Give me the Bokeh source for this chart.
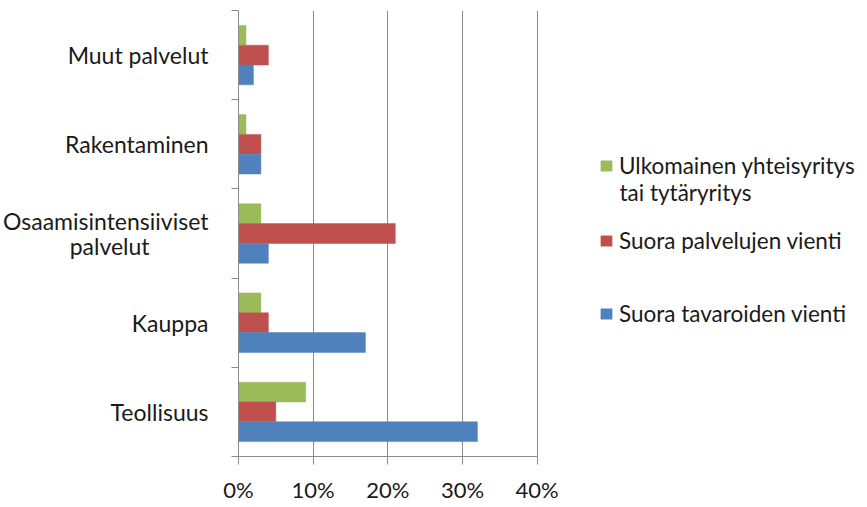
from bokeh.plotting import figure
from bokeh.models import (Range1d, FixedTicker, PrintfTickFormatter, Legend, LegendItem,
                          ColumnDataSource, Label)
from bokeh.embed import file_html
from bokeh.resources import INLINE

# ---- data (bottom to top) ----
categories = ["Teollisuus", "Kauppa", "Osaamisintensiiviset\npalvelut", "Rakentaminen", "Muut palvelut"]
tavaroiden_vienti = [32, 17, 4, 3, 2]       # Suora tavaroiden vienti (blue)
palvelujen_vienti = [5, 4, 21, 3, 4]        # Suora palvelujen vienti (red)
ulkomainen = [9, 3, 3, 1, 1]                # Ulkomainen yhteisyritys tai tytäryritys (green)
x_ticks = [0, 10, 20, 30, 40]

series_names = ["Ulkomainen yhteisyritys",
                "Suora palvelujen vienti",
                "Suora tavaroiden vienti"]
series_name_line2 = "tai tytäryritys"
colors = ["#9BBB59", "#C0504D", "#4F81BD"]

FONT = "Lato"
TEXT_COLOR = "#1a1a1a"
GRID_COLOR = "#8c8c8c"

# frame extends to the right so the legend can sit inside it; axis/grid stop at 40 %
p = figure(width=857, height=505, output_backend="svg", toolbar_location=None,
           x_range=Range1d(0, 82.77), y_range=Range1d(-0.5, len(categories) - 0.5),
           min_border_left=229, min_border_top=10, min_border_bottom=45, min_border_right=1)
p.outline_line_color = None
p.background_fill_color = "white"
p.border_fill_color = "white"

idx = list(range(len(categories)))
bar_h = 0.222
offsets = [bar_h, 0.0, -bar_h]
values = [ulkomainen, palvelujen_vienti, tavaroiden_vienti]
renderers = []
for vals, off, col in zip(values, offsets, colors):
    src = ColumnDataSource(dict(y=[i + off for i in idx], right=vals))
    r = p.hbar(y="y", right="right", left=0, height=bar_h, source=src,
               fill_color=col, line_color=col, line_width=0.5)
    renderers.append(r)

# x axis
p.xaxis.ticker = FixedTicker(ticks=x_ticks)
p.xaxis.bounds = (0, 40)
p.xaxis.formatter = PrintfTickFormatter(format="%d%%")
p.xaxis.axis_line_color = GRID_COLOR
p.xaxis.major_tick_line_color = GRID_COLOR
p.xaxis.major_tick_out = 8
p.xaxis.major_tick_in = 0
p.xaxis.minor_tick_line_color = None
p.xaxis.major_label_text_font = FONT
p.xaxis.major_label_text_font_size = "22px"
p.xaxis.major_label_text_color = TEXT_COLOR
p.xaxis.major_label_standoff = 11

p.xgrid.ticker = FixedTicker(ticks=x_ticks)
p.xgrid.grid_line_color = GRID_COLOR
p.xgrid.grid_line_width = 1
p.ygrid.grid_line_color = None

# y axis: labels at centres, tick marks at category boundaries
labels = [c.replace("\npalvelut", "\npalvelut" + "\u00a0" * 10) for c in categories]
p.yaxis.ticker = FixedTicker(ticks=idx, minor_ticks=[i - 0.5 for i in range(len(categories) + 1)])
p.yaxis.major_label_overrides = {i: c for i, c in enumerate(labels)}
p.yaxis.axis_line_color = GRID_COLOR
p.yaxis.major_tick_line_color = None
p.yaxis.major_tick_out = 0
p.yaxis.major_tick_in = 0
p.yaxis.minor_tick_line_color = GRID_COLOR
p.yaxis.minor_tick_out = 7
p.yaxis.minor_tick_in = 0
p.yaxis.major_label_text_font = FONT
p.yaxis.major_label_text_font_size = "23px"
p.yaxis.major_label_text_color = TEXT_COLOR
p.yaxis.major_label_text_line_height = 0.9
p.yaxis.major_label_standoff = 23

# legends (one per entry, positioned to match)
legend_y = [277, 202, 129]  # screen px from frame bottom to each legend's bottom edge
for name, r, ly in zip(series_names, renderers, legend_y):
    lg = Legend(items=[LegendItem(label=name, renderers=[r])], location=(361, ly),
                glyph_width=14, glyph_height=13, label_standoff=6,
                label_text_font=FONT, label_text_font_size="22.5px",
                label_text_color=TEXT_COLOR, padding=0, margin=0,
                border_line_color=None, background_fill_alpha=0,
                label_height=28, spacing=0)
    p.add_layout(lg, "center")

p.add_layout(Label(x=381, y=264, x_units="screen", y_units="screen",
                   text=series_name_line2, text_font=FONT, text_font_size="22.5px",
                   text_color=TEXT_COLOR, text_baseline="alphabetic"))

open("out.html", "w").write(file_html(p, INLINE))
